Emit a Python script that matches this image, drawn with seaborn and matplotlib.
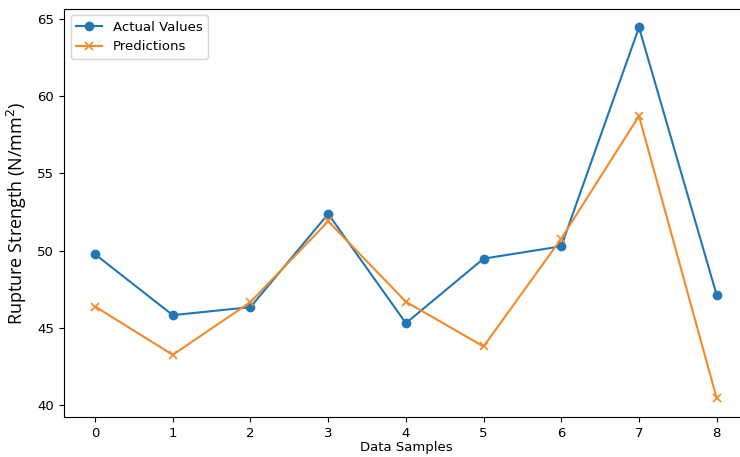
import numpy as np
import pandas as pd
import seaborn as sns
import matplotlib.pyplot as plt

# values
samples = [0, 1, 2, 3, 4, 5, 6, 7, 8]
actual_values = [49.76, 45.82, 46.34, 52.38, 45.30, 49.48, 50.28, 64.46, 47.12]
predictions = [46.38, 43.25, 46.67, 51.90, 46.69, 43.79, 50.78, 58.72, 40.43]


def main():
    df = pd.DataFrame({'sample': samples,
                       'actual': actual_values,
                       'pred': predictions})

    fig = plt.figure(figsize=(7.4, 4.57), dpi=100)
    ax = fig.add_axes([0.0865, 0.0877, 0.924, 0.893])

    blue = '#1f77b4'
    orange = '#f28a2a'
    sns.lineplot(data=df, x='sample', y='actual', marker='o',
                 markeredgewidth=0, markersize=7, color=blue,
                 label='Actual Values', ax=ax)
    sns.lineplot(data=df, x='sample', y='pred', marker='x',
                 markersize=6, markeredgewidth=1.2, markeredgecolor=orange,
                 color=orange, label='Predictions', ax=ax)

    ax.set_xticks(samples)
    ax.tick_params(labelsize=9.5)
    ax.set_xlabel('Data Samples', fontsize=9.5, labelpad=1)
    ax.set_ylabel('Rupture Strength (N/mm$^2$)', fontsize=13,
                  family='Open Sans', labelpad=6)
    ax.legend(loc='upper left', fontsize=9.5)

    fig.savefig('out.png', dpi=100)


if __name__ == '__main__':
    main()
